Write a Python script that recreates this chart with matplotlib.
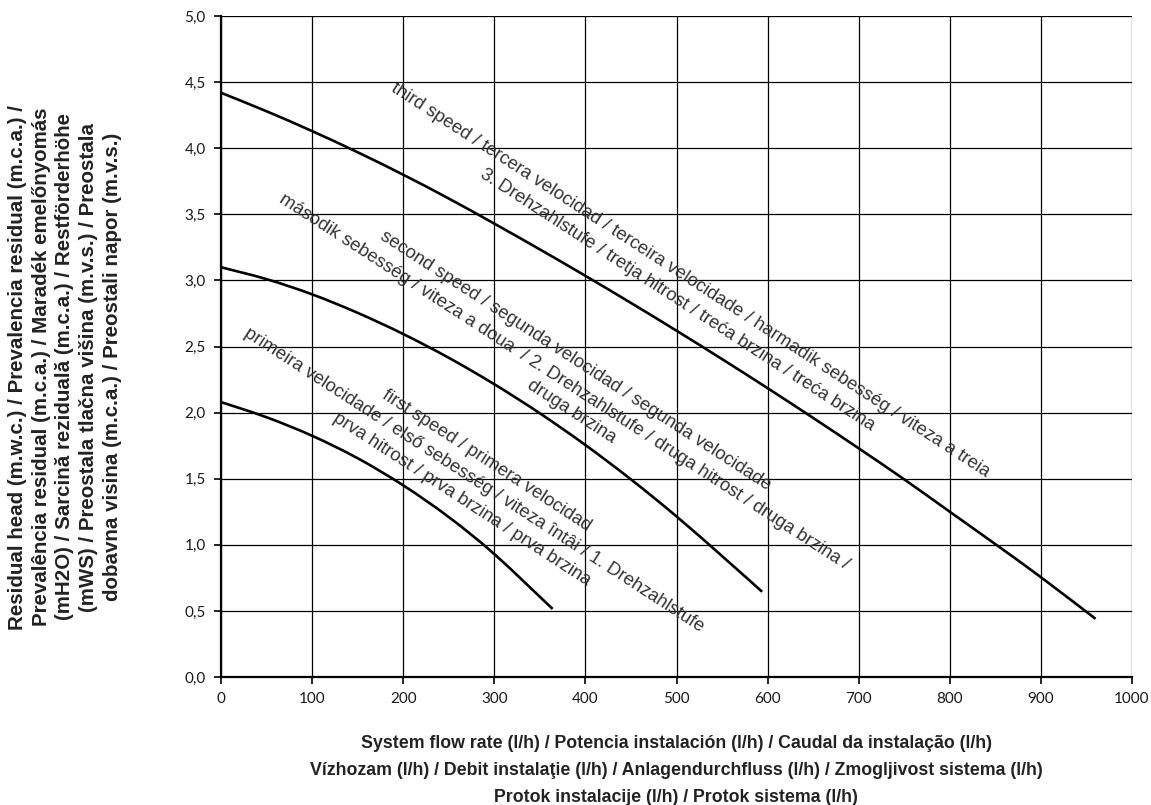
import matplotlib
matplotlib.use("Agg")
import numpy as np
import matplotlib.pyplot as plt
from matplotlib.path import Path
from matplotlib.patches import PathPatch
from matplotlib.ticker import FuncFormatter
from matplotlib import font_manager

# Pump curves: residual head (m) against system flow rate (l/h)
flow_first = [0, 50, 100, 150, 200, 250, 300, 364]
head_first = [2.08, 1.965, 1.825, 1.655, 1.45, 1.21, 0.93, 0.515]

flow_second = [0, 50, 100, 150, 200, 250, 300, 350, 400, 450, 500, 550, 594]
head_second = [3.10, 3.01, 2.895, 2.755, 2.595, 2.415, 2.215, 1.995, 1.755, 1.495, 1.215, 0.915, 0.645]

flow_third = [0, 50, 100, 150, 200, 250, 300, 350, 400, 450, 500, 550, 600,
              650, 700, 750, 800, 850, 900, 960]
head_third = [4.42, 4.28, 4.13, 3.97, 3.80, 3.62, 3.43, 3.235, 3.035, 2.83, 2.62,
              2.405, 2.185, 1.96, 1.73, 1.495, 1.25, 1.005, 0.755, 0.44]

x_ticks = [0, 100, 200, 300, 400, 500, 600, 700, 800, 900, 1000]
y_ticks = [0.0, 0.5, 1.0, 1.5, 2.0, 2.5, 3.0, 3.5, 4.0, 4.5, 5.0]

x_label_lines = [
    "System flow rate (l/h) / Potencia instalación (l/h) / Caudal da instalação (l/h)",
    "Vízhozam (l/h) / Debit instalaţie (l/h) / Anlagendurchfluss (l/h) / Zmogljivost sistema (l/h)",
    "Protok instalacije (l/h) / Protok sistema (l/h)",
]
y_label_lines = [
    "Residual head (m.w.c.) / Prevalencia residual (m.c.a.) /",
    "Prevalência residual (m.c.a.) / Maradék emelőnyomás",
    "(mH2O) / Sarcină reziduală (m.c.a.) / Restförderhöhe",
    "(mWS) / Preostala tlačna višina (m.v.s.) / Preostala",
    "dobavna visina (m.c.a.) / Preostali napor (m.v.s.)",
]

# Curve captions: (text, flow at centre, head at centre)
captions = [
    ("third speed / tercera velocidad / terceira velocidade / harmadik sebesség / viteza a treia", 515, 3.00),
    ("3. Drehzahlstufe / tretja hitrost / treća brzina / treća brzina", 501, 2.85),
    ("second speed / segunda velocidad / segunda velocidade", 389, 2.39),
    ("második sebesség / viteza a doua  / 2. Drehzahlstufe / druga hitrost / druga brzina /", 377, 2.23),
    ("druga brzina", 385, 2.01),
    ("first speed / primera velocidad", 292, 1.634),
    ("primeira velocidade / első sebesség / viteza întâi / 1. Drehzahlstufe", 278, 1.49),
    ("prva hitrost / prva brzina / prva brzina", 264, 1.346),
]


def smoothed_path(xs, ys):
    """Cubic Bezier path passing through every point (Catmull-Rom style)."""
    pts = np.column_stack([xs, ys]).astype(float)
    n = len(pts)
    verts = [tuple(pts[0])]
    codes = [Path.MOVETO]
    for i in range(n - 1):
        p0 = pts[i - 1] if i > 0 else pts[i]
        p1 = pts[i]
        p2 = pts[i + 1]
        p3 = pts[i + 2] if i + 2 < n else pts[i + 1]
        c1 = p1 + (p2 - p0) / 6.0
        c2 = p2 - (p3 - p1) / 6.0
        verts += [tuple(c1), tuple(c2), tuple(p2)]
        codes += [Path.CURVE4] * 3
    return Path(verts, codes)


available = {f.name for f in font_manager.fontManager.ttflist}
narrow = "Liberation Sans Narrow" if "Liberation Sans Narrow" in available else "Liberation Sans"

fig = plt.figure(figsize=(11.51, 8.05), dpi=100)
ax = fig.add_axes([0.192, 0.159, 0.7915, 0.821])

for fl, hd in [(flow_first, head_first), (flow_second, head_second), (flow_third, head_third)]:
    ax.add_patch(PathPatch(smoothed_path(fl, hd), facecolor="none", edgecolor="black",
                           linewidth=1.9, capstyle="butt", joinstyle="round", zorder=3))

ax.set_xlim(0, 1000)
ax.set_ylim(0, 5)
ax.set_xticks(x_ticks)
ax.set_yticks(y_ticks)
ax.yaxis.set_major_formatter(FuncFormatter(lambda v, p: f"{v:.1f}".replace(".", ",")))
ax.grid(True, color="black", linewidth=0.9)
ax.set_axisbelow(True)
for side in ["top", "right"]:
    ax.spines[side].set_visible(False)
for side in ["left", "bottom"]:
    ax.spines[side].set_linewidth(1.6)
ax.tick_params(direction="out", length=5, width=1.2, color="black",
               labelsize=11, labelcolor="#1a1a1a", pad=6)
for lab in ax.get_xticklabels() + ax.get_yticklabels():
    lab.set_fontfamily(["Lato", "DejaVu Sans"])

for text, fx, hy in captions:
    ax.text(fx, hy, text, rotation=-33, rotation_mode="anchor", ha="center", va="center",
            fontsize=13.2, color="#333333", family=["Liberation Sans", "DejaVu Sans"], zorder=4)

for i, line in enumerate(x_label_lines):
    fig.text(0.5875, (805 - 743 - i * 27) / 805, line, ha="center", va="center",
             fontsize=12.8, fontweight="bold", color="#222222", family=[narrow, "DejaVu Sans"])

for i, line in enumerate(y_label_lines):
    fig.text((18 + i * 23.5) / 1151, (805 - 367) / 805, line, rotation=90, ha="center", va="center",
             fontsize=14.8, fontweight="bold", color="#222222", family=["Liberation Sans", "DejaVu Sans"])

fig.savefig("out.png", dpi=100, facecolor="white")
